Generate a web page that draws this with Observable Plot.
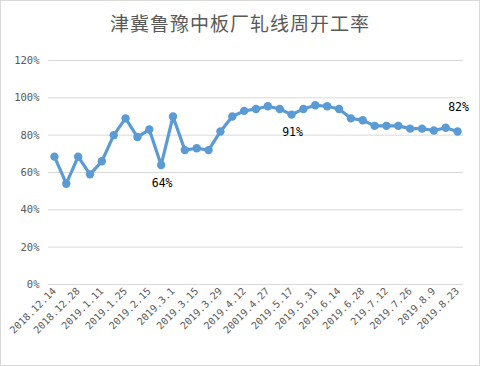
<!DOCTYPE html>
<html>
<head>
<meta charset="utf-8">
<script src="https://cdn.jsdelivr.net/npm/d3@7"></script>
<script src="https://cdn.jsdelivr.net/npm/@observablehq/plot@0.6"></script>
<style>
  html, body { margin: 0; padding: 0; background: #fff; }
  #frame { width: 480px; height: 366px; box-sizing: border-box; border: 1px solid #d9d9d9; background: #fff; overflow: hidden; }
  #title { height: 43px; line-height: 44px; text-align: center; font-family: "Noto Sans CJK SC", sans-serif; font-size: 19px; color: #595959; letter-spacing: 1px; }
  svg { display: block; }
</style>
</head>
<body>
<div id="frame">
  <div id="title">津冀鲁豫中板厂轧线周开工率</div>
  <div id="chart"></div>
</div>
<script>
// Weekly dates (one per point)
const dates = [
  "2018.12.14","2018.12.21","2018.12.28","2019.1.4","2019.1.11","2019.1.18","2019.1.25","2019.2.1",
  "2019.2.15","2019.2.22","2019.3.1","2019.3.8","2019.3.15","2019.3.22","2019.3.29","2019.4.4",
  "2019.4.12","2019.4.19","2019.4.27","2019.5.10","2019.5.17","2019.5.24","2019.5.31","2019.6.6",
  "2019.6.14","2019.6.21","2019.6.28","2019.7.5","2019.7.12","2019.7.19","2019.7.26","2019.8.2",
  "2019.8.9","2019.8.16","2019.8.23"
];
// Operating rate, %
const rates = [
  68.5, 54, 68.5, 59, 66, 80, 89, 79,
  83, 64, 90, 72, 73, 72, 82, 90,
  93, 94, 95.5, 94, 91, 94, 96, 95.5,
  94, 89, 88, 85, 85, 85, 83.5, 83.5,
  82.5, 84, 82
];
// Tick labels as printed on the chart (every second week)
const tickLabels = [
  "2018.12.14","2018.12.28","2019.1.11","2019.1.25","2019.2.15","2019.3.1","2019.3.15","2019.3.29",
  "2019.4.12","20019.4.27","2019.5.17","2019.5.31","2019.6.14","2019.6.28","219.7.12","2019.7.26",
  "2019.8.9","2019.8.23"
];
const yTicks = [0, 20, 40, 60, 80, 100, 120];
const labelBelow = ["2019.2.22", "2019.5.17"];
const labelAbove = ["2019.8.23"];

const data = dates.map((d, i) => ({date: d, rate: rates[i]}));
const tickDates = dates.filter((d, i) => i % 2 === 0);
const tickName = new Map(tickDates.map((d, i) => [d, tickLabels[i]]));

const blue = "#5b9bd5";
const mono = "'DejaVu Sans Mono', monospace";

const chart = Plot.plot({
  width: 478,
  height: 321,
  marginLeft: 47,
  marginRight: 16,
  marginTop: 16,
  marginBottom: 81,
  style: { fontFamily: mono, fontSize: "10px", color: "#595959", background: "#fff" },
  x: { type: "point", domain: dates, padding: 0.5, round: false, label: null },
  y: { domain: [0, 120], label: null },
  marks: [
    Plot.gridY(yTicks, { stroke: "#d9d9d9", strokeOpacity: 1, strokeWidth: 1 }),
    Plot.axisY(yTicks, { tickSize: 0, tickPadding: 9, tickFormat: d => d + "%", fill: "#595959", fontSize: 10.5 }),
    Plot.axisX(tickDates, { tickSize: 0, tickPadding: 5, tickRotate: -45, tickFormat: d => tickName.get(d), fill: "#595959", fontSize: 10 }),
    Plot.line(data, { x: "date", y: "rate", stroke: blue, strokeWidth: 3.2 }),
    Plot.dot(data, { x: "date", y: "rate", r: 4.2, fill: blue, stroke: "none" }),
    Plot.text(data.filter(d => labelBelow.includes(d.date)), { x: "date", y: "rate", text: d => Math.round(d.rate) + "%", dy: 18, dx: 1, fill: "#000", fontSize: 11.5, fontFamily: mono }),
    Plot.text(data.filter(d => labelAbove.includes(d.date)), { x: "date", y: "rate", text: d => Math.round(d.rate) + "%", dy: -24, dx: 1, fill: "#000", fontSize: 11.5, fontFamily: mono })
  ]
});
document.getElementById("chart").appendChild(chart);
</script>
</body>
</html>
